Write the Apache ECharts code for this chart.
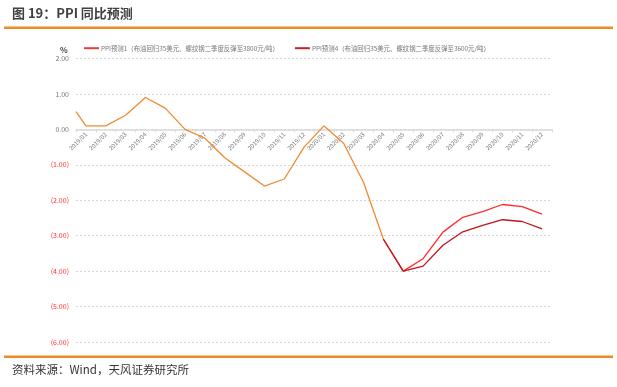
<!DOCTYPE html>
<html><head><meta charset="utf-8">
<script src="https://cdn.jsdelivr.net/npm/echarts@6/dist/echarts.min.js"></script>
<style>html,body{margin:0;padding:0;background:#fff}#c{width:617px;height:387px}</style>
</head><body><div id="c"></div>
<script>
const months = ['2019/01','2019/02','2019/03','2019/04','2019/05','2019/06','2019/07','2019/08','2019/09','2019/10','2019/11','2019/12',
'2020/01','2020/02','2020/03','2020/04','2020/05','2020/06','2020/07','2020/08','2020/09','2020/10','2020/11','2020/12'];
// value at the left edge of the plot (before 2019/01)
const leadValue = 0.5;
const actual = [0.1,0.1,0.4,0.9,0.6,0.0,-0.25,-0.8,-1.2,-1.6,-1.4,-0.5,0.1,-0.4,-1.5,-3.1,null,null,null,null,null,null,null,null];
const forecast1 = [null,null,null,null,null,null,null,null,null,null,null,null,null,null,null,-3.1,-4.0,-3.65,-2.9,-2.48,-2.32,-2.12,-2.18,-2.39];
const forecast4 = [null,null,null,null,null,null,null,null,null,null,null,null,null,null,null,-3.1,-4.0,-3.86,-3.27,-2.89,-2.71,-2.55,-2.6,-2.81];
const name1 = 'PPI预测1（布油回归35美元、螺纹钢二季度反弹至3800元/吨）';
const name4 = 'PPI预测4（布油回归35美元、螺纹钢二季度反弹至3600元/吨）';
const yMin = -6, yMax = 2;

const FONT = '"Noto Sans CJK SC","Noto Sans",sans-serif';
const H = 387, gTop = 58.5, gBottom = 45;
const plotH = H - gTop - gBottom;
const zeroOffset = -plotH * (0 - yMin) / (yMax - yMin);
const toPairs = arr => arr.map((v,i)=>[i,v]).filter(p=>p[1]!==null);
const chart = echarts.init(document.getElementById('c'), null, {renderer:'canvas'});
chart.setOption({
  animation:false,
  textStyle:{fontFamily:FONT},
  grid:{left:76,right:65,top:gTop,bottom:gBottom,containLabel:false},
  legend:{
    left:79, top:40, itemWidth:15, itemHeight:2, itemGap:16, icon:'rect',
    textStyle:{fontSize:6.4, color:'#777', padding:[0,0,0,-3]},
    data:[name1,name4]
  },
  graphic:[
    {type:'text', left:12, top:7, style:{text:'图 19：PPI 同比预测', font:'bold 13px '+FONT, fill:'#404040'}},
    {type:'rect', shape:{x:4,y:26.5,width:609,height:2.5}, style:{fill:'#F08A24'}},
    {type:'rect', shape:{x:4,y:355.5,width:609,height:2.5}, style:{fill:'#F08A24'}},
    {type:'text', left:12, top:364, style:{text:'资料来源：Wind，天风证券研究所', font:'11.5px '+FONT, fill:'#333'}},
    {type:'text', left:60, top:46, style:{text:'%', font:'bold 8px '+FONT, fill:'#444'}}
  ],
  xAxis:[
    {type:'category', data:months, boundaryGap:true, position:'bottom', offset:zeroOffset,
     axisLine:{onZero:false, lineStyle:{color:'#d9d9d9', width:1.5}},
     axisTick:{show:true, length:3, lineStyle:{color:'#d9d9d9'}},
     axisLabel:{rotate:45, fontSize:6, color:'#777', margin:4, interval:0},
     splitLine:{show:false}},
    {type:'value', min:-0.5, max:23.5, show:false, axisLine:{onZero:false}}
  ],
  yAxis:{type:'value', min:yMin, max:yMax, interval:1,
    axisLine:{show:false, onZero:false}, axisTick:{show:false},
    splitLine:{lineStyle:{color:'#d4d4d4', type:[2,2], width:1}},
    axisLabel:{fontSize:7, margin:7, formatter:v=> v<0?'{n|('+Math.abs(v).toFixed(2)+')}':'{p|'+v.toFixed(2)+'}',
      rich:{n:{color:'#FF3030',fontSize:7},p:{color:'#777',fontSize:7}}}
  },
  series:[
    {name:'历史', type:'line', xAxisIndex:1, symbol:'none', data:[[-0.5,leadValue]].concat(toPairs(actual)),
     lineStyle:{color:'#F08A30', width:1.3}, itemStyle:{color:'#F08A30'}, z:3},
    {name:name1, type:'line', xAxisIndex:1, symbol:'none', data:toPairs(forecast1),
     lineStyle:{color:'#FF2A2A', width:1.3}, itemStyle:{color:'#F03A3A'}, z:2},
    {name:name4, type:'line', xAxisIndex:1, symbol:'none', data:toPairs(forecast4),
     lineStyle:{color:'#C0141C', width:1.3}, itemStyle:{color:'#C8202A'}, z:4}
  ]
});
</script></body></html>
